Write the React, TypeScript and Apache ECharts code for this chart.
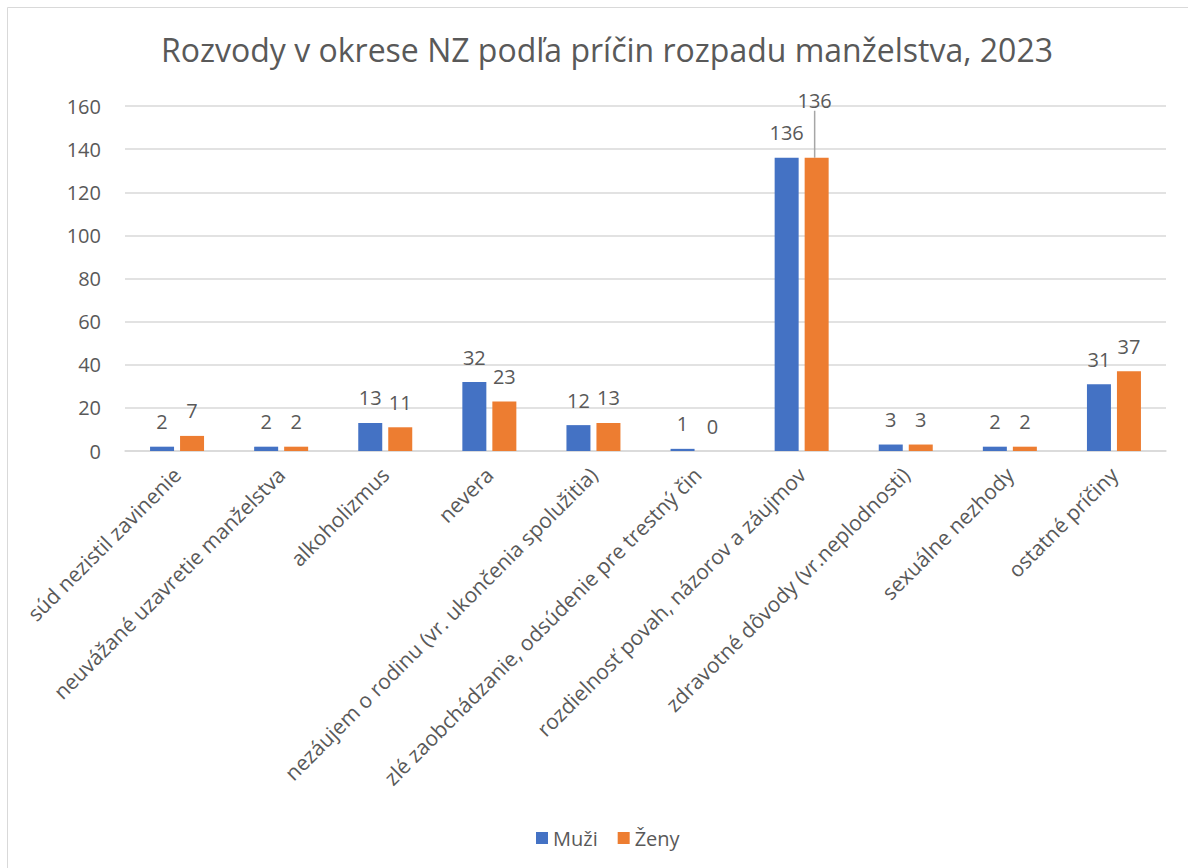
import React, { useEffect, useRef } from "react";
import * as echarts from "echarts";

const categories = [
  "súd nezistil zavinenie",
  "neuvážané uzavretie manželstva",
  "alkoholizmus",
  "nevera",
  "nezáujem o rodinu (vr. ukončenia spolužitia)",
  "zlé zaobchádzanie, odsúdenie pre trestný čin",
  "rozdielnosť povah, názorov a záujmov",
  "zdravotné dôvody (vr.neplodnosti)",
  "sexuálne nezhody",
  "ostatné príčiny",
];
const muzi = [2, 2, 13, 32, 12, 1, 136, 3, 2, 31];
const zeny = [7, 2, 11, 23, 13, 0, 136, 3, 2, 37];

const FONT = "'Open Sans', 'Noto Sans', sans-serif";
const TXT = "#595959";

export default function App() {
  const ref = useRef<HTMLDivElement>(null);
  useEffect(() => {
    const chart = echarts.init(ref.current!, null, { renderer: "svg" });
    const labelStyle = {
      show: true,
      position: "top",
      distance: 15,
      fontFamily: FONT,
      fontSize: 20,
      color: TXT,
    };
    chart.setOption({
      animation: false,
      backgroundColor: "#ffffff",
      textStyle: { fontFamily: FONT },
      title: {
        text: "Rozvody v okrese NZ podľa príčin rozpadu manželstva, 2023",
        left: 602,
        textAlign: "center",
        top: 28,
        textStyle: { fontFamily: FONT, fontSize: 32, fontWeight: "normal", color: TXT },
      },
      graphic: [
        {
          type: "rect",
          shape: { x: 7.5, y: 7.5, width: 1200, height: 900 },
          style: { fill: "none", stroke: "#d9d9d9", lineWidth: 1 },
          silent: true,
          z: -1,
        },
      ],
      legend: {
        left: 531,
        top: 823,
        itemWidth: 12,
        itemHeight: 12,
        itemGap: 20,
        icon: "rect",
        textStyle: { fontFamily: FONT, fontSize: 20, color: TXT },
        data: ["Muži", "Ženy"],
      },
      grid: { left: 125, right: 22, top: 106, bottom: 417 },
      xAxis: {
        type: "category",
        data: categories,
        axisLine: { lineStyle: { color: "#d9d9d9", width: 1.5 } },
        axisTick: { show: false },
        axisLabel: {
          rotate: 45,
          interval: 0,
          margin: 20,
          fontFamily: FONT,
          fontSize: 21,
          color: TXT,
        },
      },
      yAxis: {
        type: "value",
        min: 0,
        max: 160,
        interval: 20,
        axisLine: { show: false },
        axisTick: { show: false },
        splitLine: { lineStyle: { color: "#d9d9d9", width: 1.5 } },
        axisLabel: { fontFamily: FONT, fontSize: 20, color: TXT, margin: 24 },
      },
      series: [
        {
          name: "Muži",
          type: "bar",
          data: muzi,
          barWidth: 24,
          barGap: "25%",
          itemStyle: { color: "#4472c4" },
          label: labelStyle,
        },
        {
          name: "Ženy",
          type: "bar",
          data: zeny.map((v, i) =>
            i === 6
              ? { value: v, labelLine: { show: true, lineStyle: { color: "#a6a6a6", width: 1.5 } } }
              : v
          ),
          barWidth: 24,
          itemStyle: { color: "#ed7d31" },
          label: labelStyle,
          labelLine: { show: false },
          labelLayout: (p: any) => (p.dataIndex === 6 ? { dy: -32, dx: -2 } : {}),
        },
      ],
    });
    return () => chart.dispose();
  }, []);
  return (
    <div
      ref={ref}
      style={{ position: "fixed", left: 0, top: 0, width: 1188, height: 868 }}
    />
  );
}
